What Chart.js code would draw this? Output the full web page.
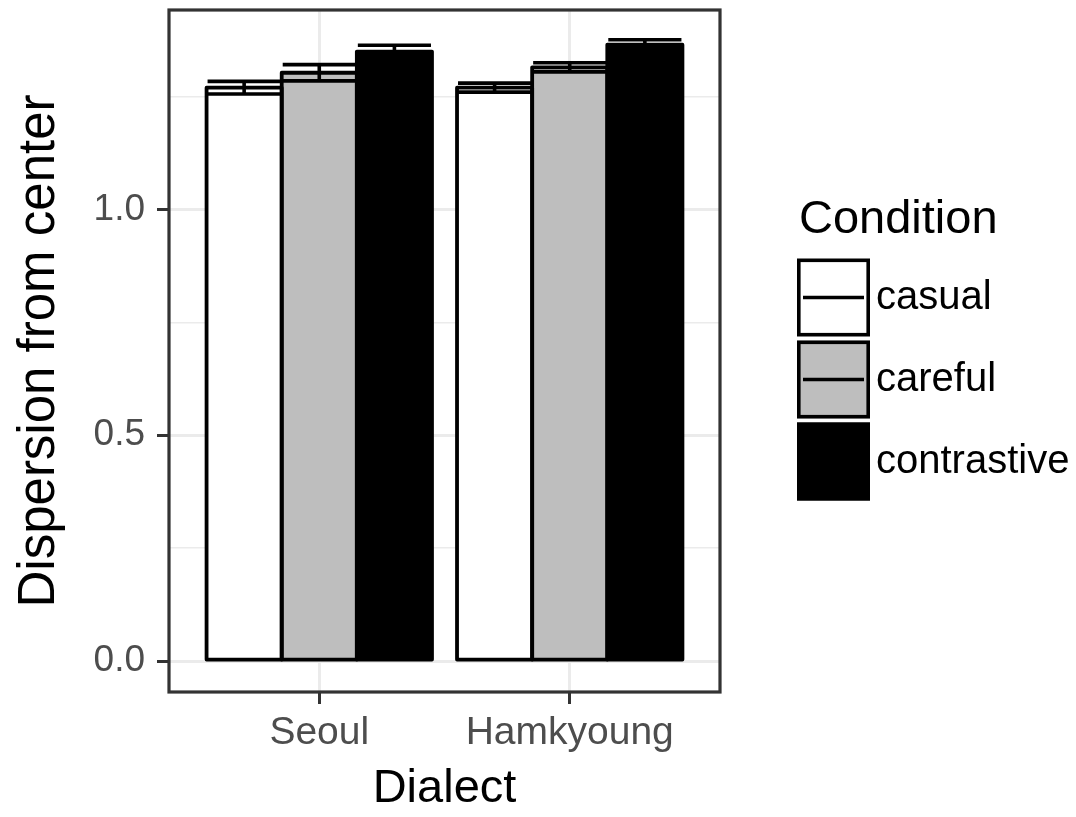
<!DOCTYPE html>
<html><head><meta charset="utf-8">
<script src="https://cdn.jsdelivr.net/npm/chart.js@4"></script>
<style>html,body{margin:0;padding:0;background:#fff;} canvas{display:block;}</style>
</head><body>
<canvas id="c" width="1076" height="817"></canvas>
<script>
const dialects = ['Seoul', 'Hamkyoung'];
const conditions = ['casual', 'careful', 'contrastive'];
const casualMean = [1.270, 1.270];
const casualSE = [0.014, 0.010];
const carefulMean = [1.303, 1.315];
const carefulSE = [0.018, 0.010];
const contrastiveMean = [1.350, 1.365];
const contrastiveSE = [0.014, 0.011];
const fills = ['#ffffff', '#bebebe', '#000000'];
const yTicks = [0, 0.25, 0.5, 0.75, 1.0, 1.25];
const yMajor = [0, 0.5, 1.0];

const FONT = '"Liberation Sans", Arial, Helvetica, sans-serif';
const means = [casualMean, carefulMean, contrastiveMean];
const ses = [casualSE, carefulSE, contrastiveSE];

const ggBars = {
  id: 'ggBars',
  afterDatasetsDraw(chart) {
    const ctx = chart.ctx, y = chart.scales.y;
    ctx.save();
    ctx.strokeStyle = '#000';
    ctx.lineWidth = 3.8;
    ctx.lineJoin = 'round';
    chart.data.datasets.forEach((ds, di) => {
      chart.getDatasetMeta(di).data.forEach(bar => {
        const p = bar.getProps(['x', 'y', 'base', 'width'], true);
        ctx.strokeRect(p.x - p.width / 2, p.y, p.width, p.base - p.y);
      });
    });
    ctx.lineCap = 'butt';
    ctx.lineWidth = 3.6;
    chart.data.datasets.forEach((ds, di) => {
      chart.getDatasetMeta(di).data.forEach((bar, i) => {
        const p = bar.getProps(['x', 'width'], true);
        const m = ds.data[i].y, se = ds.se[i];
        const yHi = y.getPixelForValue(m + se), yLo = y.getPixelForValue(m - se);
        const half = p.width / 2 - 1;
        ctx.beginPath();
        ctx.moveTo(p.x - half, yHi); ctx.lineTo(p.x + half, yHi);
        ctx.moveTo(p.x, yHi); ctx.lineTo(p.x, yLo);
        ctx.moveTo(p.x - half, yLo); ctx.lineTo(p.x + half, yLo);
        ctx.stroke();
      });
    });
    ctx.restore();
  }
};

const panelBorder = {
  id: 'panelBorder',
  afterDraw(chart) {
    const {ctx, chartArea: a} = chart;
    ctx.save();
    ctx.strokeStyle = '#333333';
    ctx.lineWidth = 3.2;
    ctx.strokeRect(a.left, a.top, a.right - a.left, a.bottom - a.top);
    ctx.restore();
  }
};

const ggLegend = {
  id: 'ggLegend',
  afterDraw(chart) {
    const ctx = chart.ctx;
    ctx.save();
    ctx.fillStyle = '#000';
    ctx.font = '47px ' + FONT;
    ctx.textBaseline = 'alphabetic';
    ctx.textAlign = 'left';
    ctx.fillText('Condition', 799, 233);
    const x0 = 797, w = 73, h = 78;
    const tops = [258.5, 340.5, 422.5];
    chart.data.datasets.forEach((ds, i) => {
      const t = tops[i];
      ctx.fillStyle = ds.backgroundColor;
      ctx.fillRect(x0, t, w, h);
      ctx.strokeStyle = '#000';
      ctx.lineWidth = 3.6;
      ctx.strokeRect(x0 + 1.8, t + 1.8, w - 3.6, h - 3.6);
      ctx.beginPath();
      ctx.moveTo(x0 + 6, t + h / 2);
      ctx.lineTo(x0 + w - 6, t + h / 2);
      ctx.stroke();
      ctx.fillStyle = '#000';
      ctx.font = '40px ' + FONT;
      ctx.textBaseline = 'middle';
      ctx.fillText(ds.label, 876, t + h / 2);
    });
    ctx.restore();
  }
};

function noPad(s) { s.paddingTop = 0; s.paddingBottom = 0; s.paddingLeft = 0; s.paddingRight = 0; }

new Chart(document.getElementById('c'), {
  type: 'bar',
  data: {
    datasets: conditions.map((c, k) => ({
      label: c,
      data: means[k].map((v, i) => ({x: i + 1, y: v})),
      se: ses[k],
      backgroundColor: fills[k],
      borderWidth: 0,
      categoryPercentage: 0.9,
      barPercentage: 1.0
    }))
  },
  options: {
    responsive: false,
    animation: false,
    devicePixelRatio: 1,
    layout: {padding: {top: 10, right: 356, left: 0, bottom: 0}},
    plugins: {legend: {display: false}, tooltip: {enabled: false}},
    scales: {
      x: {
        type: 'linear', min: 0.4, max: 2.6, offset: false,
        afterBuildTicks: s => { s.ticks = dialects.map((_, i) => ({value: i + 1})); },
        afterFit: s => { s.height = 125; noPad(s); },
        ticks: {
          callback: v => dialects[Math.round(v) - 1] || '',
          color: '#4d4d4d', font: {family: FONT, size: 39}, padding: 6,
          maxRotation: 0, autoSkip: false
        },
        grid: {offset: false, color: '#ebebeb', lineWidth: 3, tickLength: 12, tickColor: '#333333', tickWidth: 3},
        border: {display: false},
        title: {display: true, text: 'Dialect', color: '#000', font: {family: FONT, size: 47}, padding: {top: 0, bottom: 0}}
      },
      y: {
        min: -0.0686, max: 1.442,
        afterBuildTicks: s => { s.ticks = yTicks.map(v => ({value: v})); },
        afterFit: s => { s.width = 169; noPad(s); },
        ticks: {
          callback: v => yMajor.includes(v) ? v.toFixed(1) : '',
          color: '#4d4d4d', font: {family: FONT, size: 37}, padding: 12
        },
        grid: {
          color: '#ebebeb',
          lineWidth: c => yMajor.includes(c.tick.value) ? 3 : 1.5,
          tickLength: 12,
          tickColor: c => yMajor.includes(c.tick.value) ? '#333333' : 'rgba(0,0,0,0)',
          tickWidth: 3
        },
        border: {display: false},
        title: {display: true, text: 'Dispersion from center', color: '#000', font: {family: FONT, size: 51}, padding: {top: 9, bottom: 0}}
      }
    }
  },
  plugins: [ggBars, panelBorder, ggLegend]
});
</script>
</body></html>
